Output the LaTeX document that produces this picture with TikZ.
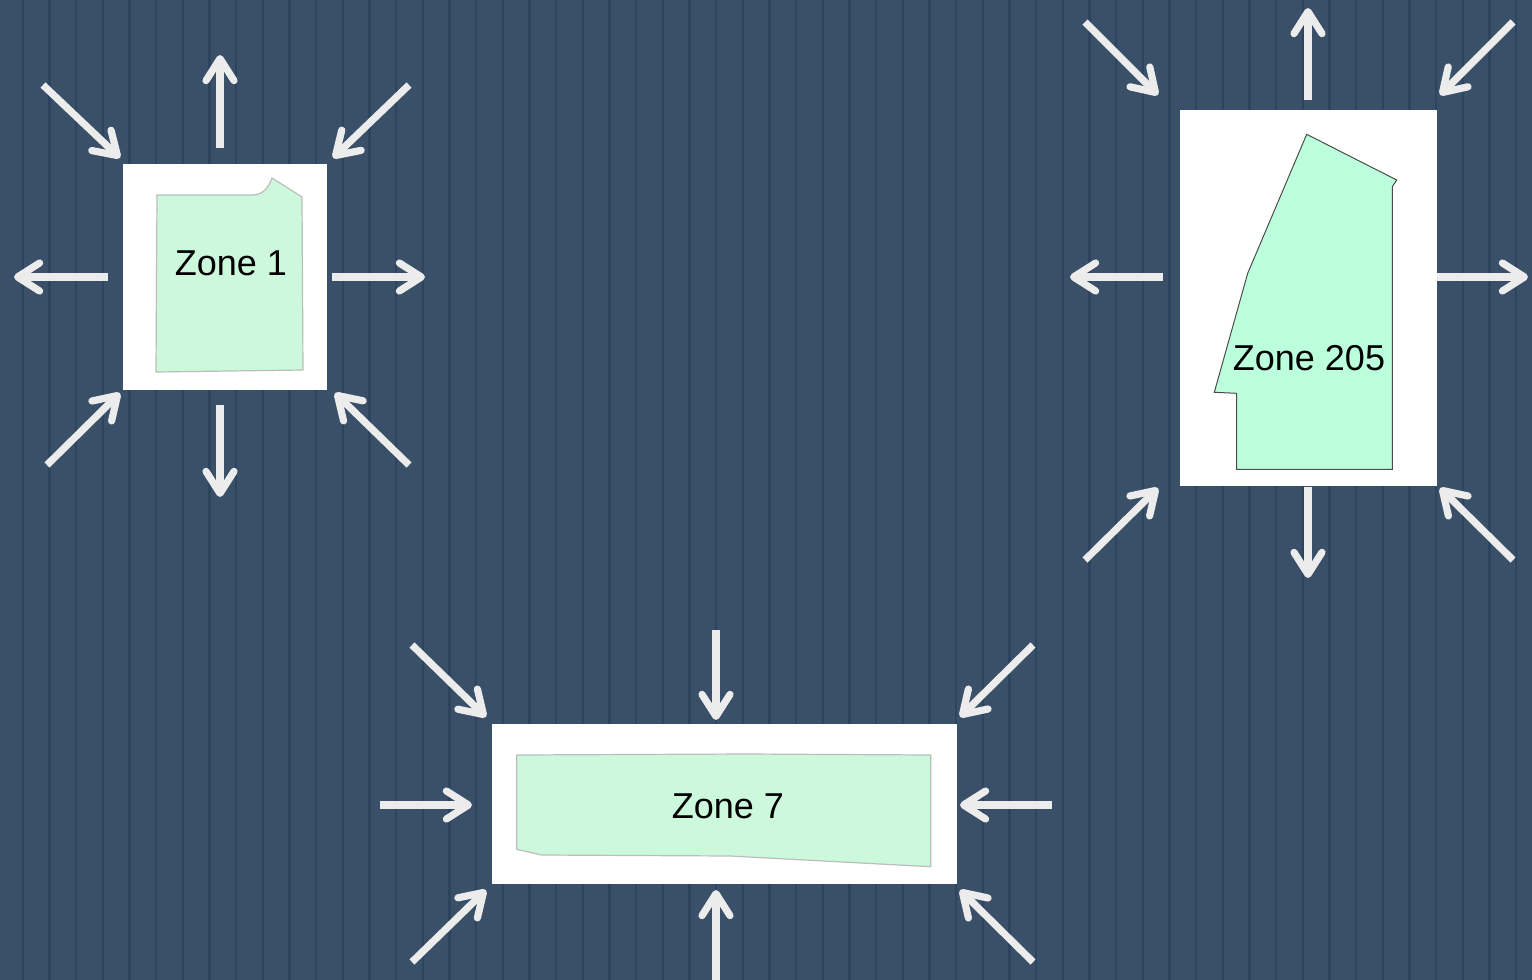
\documentclass[tikz,border=0pt]{standalone}
\usepackage{fontspec}
\setmainfont{Liberation Sans}
\usetikzlibrary{arrows.meta,calc}
\definecolor{bgblue}{HTML}{3A5069}
\definecolor{stripe}{HTML}{2D445E}
\definecolor{zonefill}{HTML}{CCF9DC}
\definecolor{zonefillB}{HTML}{BBFFDD}
\definecolor{zoneedge}{HTML}{BDBDBD}
\definecolor{arrowgray}{HTML}{ECECEC}

\begin{document}
\begin{tikzpicture}[x=0.5pt,y=-0.5pt,
  flow/.style={draw=arrowgray, line width=3.6pt,
    -{Straight Barb[length=11pt,width=14pt,round]}},
  zonebox/.style={fill=white, draw=none, inner sep=0pt, outer sep=0pt},
  zonelabel/.style={font=\fontsize{18}{20}\selectfont, text=black, inner sep=0pt}
]
% background with vertical ribs
\fill[bgblue] (0,0) rectangle (1532,980);
\useasboundingbox (0,0) rectangle (1532,980);
\foreach \i in {0,...,57}
  \draw[stripe, line width=1.2pt] ({22.7+26.67*\i},0) -- ++(0,980);

% white frames
\node[zonebox, minimum width=102pt, minimum height=113pt] (z1) at (225,277) {};
\node[zonebox, minimum width=128.5pt, minimum height=188pt] (z205) at (1308.5,298) {};
\node[zonebox, minimum width=232.5pt, minimum height=80pt] (z7) at (724.5,804) {};

% zone outlines
\draw[zoneedge, fill=zonefill, line width=0.6pt]
  (157,195) -- (253,195) .. controls (264,194) and (268,188) .. (272,178)
  -- (302,197) -- (303,370) -- (156,372) -- cycle;
\draw[black!70, fill=zonefillB, line width=0.5pt]
  (1306.7,134.3) -- (1396.7,180) -- (1392.3,186.7) -- (1392.3,469.3)
  -- (1236.7,469.3) -- (1236.7,393.3) -- (1214.3,392.3) -- (1247.7,273.3) -- cycle;
\draw[zoneedge, fill=zonefill, line width=0.6pt]
  (516.7,755) -- (746.7,754) -- (930.7,755) -- (930.7,866.7)
  -- (730,856) -- (541.7,855) -- (516.7,849.3) -- cycle;

% labels
\node[zonelabel] (t1) at (231,263) {Zone 1};
\node[zonelabel] (t205) at (1309,358) {Zone 205};
\node[zonelabel] (t7) at (728,806) {Zone 7};

% Zone 1: diagonals inward, straight ones outward
\draw[flow] ($(z1.north west)+(-80,-79)$) -- ($(z1.north west)+(-3,-6)$);
\draw[flow] ($(z1.north east)+(82,-79)$) -- ($(z1.north east)+(6,-6)$);
\draw[flow] ($(z1.south west)+(-76,75)$) -- ($(z1.south west)+(-3,3)$);
\draw[flow] ($(z1.south east)+(82,75)$) -- ($(z1.south east)+(8,3)$);
\draw[flow] ($(z1.north)+(-5,-16)$) -- ($(z1.north)+(-5,-109)$);
\draw[flow] ($(z1.south)+(-5,15)$) -- ($(z1.south)+(-5,107)$);
\draw[flow] ($(z1.west)+(-15,0)$) -- ($(z1.west)+(-109,0)$);
\draw[flow] ($(z1.east)+(5,0)$) -- ($(z1.east)+(98,0)$);

% Zone 205: diagonals inward, straight ones outward
\draw[flow] ($(z205.north west)+(-95,-88)$) -- ($(z205.north west)+(-22,-15)$);
\draw[flow] ($(z205.north east)+(76,-88)$) -- ($(z205.north east)+(3,-15)$);
\draw[flow] ($(z205.south west)+(-95,74)$) -- ($(z205.south west)+(-22,2)$);
\draw[flow] ($(z205.south east)+(76,74)$) -- ($(z205.south east)+(3,2)$);
\draw[flow] ($(z205.north)+(-0.5,-10)$) -- ($(z205.north)+(-0.5,-102)$);
\draw[flow] ($(z205.south)+(-0.5,1)$) -- ($(z205.south)+(-0.5,92)$);
\draw[flow] ($(z205.west)+(-17,-21)$) -- ($(z205.west)+(-110,-21)$);
\draw[flow] ($(z205.east)+(0,-21)$) -- ($(z205.east)+(91,-21)$);

% Zone 7: all arrows inward
\draw[flow] ($(z7.north west)+(-80,-79)$) -- ($(z7.north west)+(-6,-7)$);
\draw[flow] ($(z7.north east)+(76,-79)$) -- ($(z7.north east)+(3,-7)$);
\draw[flow] ($(z7.south west)+(-80,78)$) -- ($(z7.south west)+(-6,6)$);
\draw[flow] ($(z7.south east)+(76,78)$) -- ($(z7.south east)+(3,6)$);
\draw[flow] ($(z7.north)+(-8.5,-94)$) -- ($(z7.north)+(-8.5,-4)$);
\draw[flow] ($(z7.south)+(-8.5,96)$) -- ($(z7.south)+(-8.5,6)$);
\draw[flow] ($(z7.west)+(-112,1)$) -- ($(z7.west)+(-20,1)$);
\draw[flow] ($(z7.east)+(95,1)$) -- ($(z7.east)+(3,1)$);
\end{tikzpicture}
\end{document}
